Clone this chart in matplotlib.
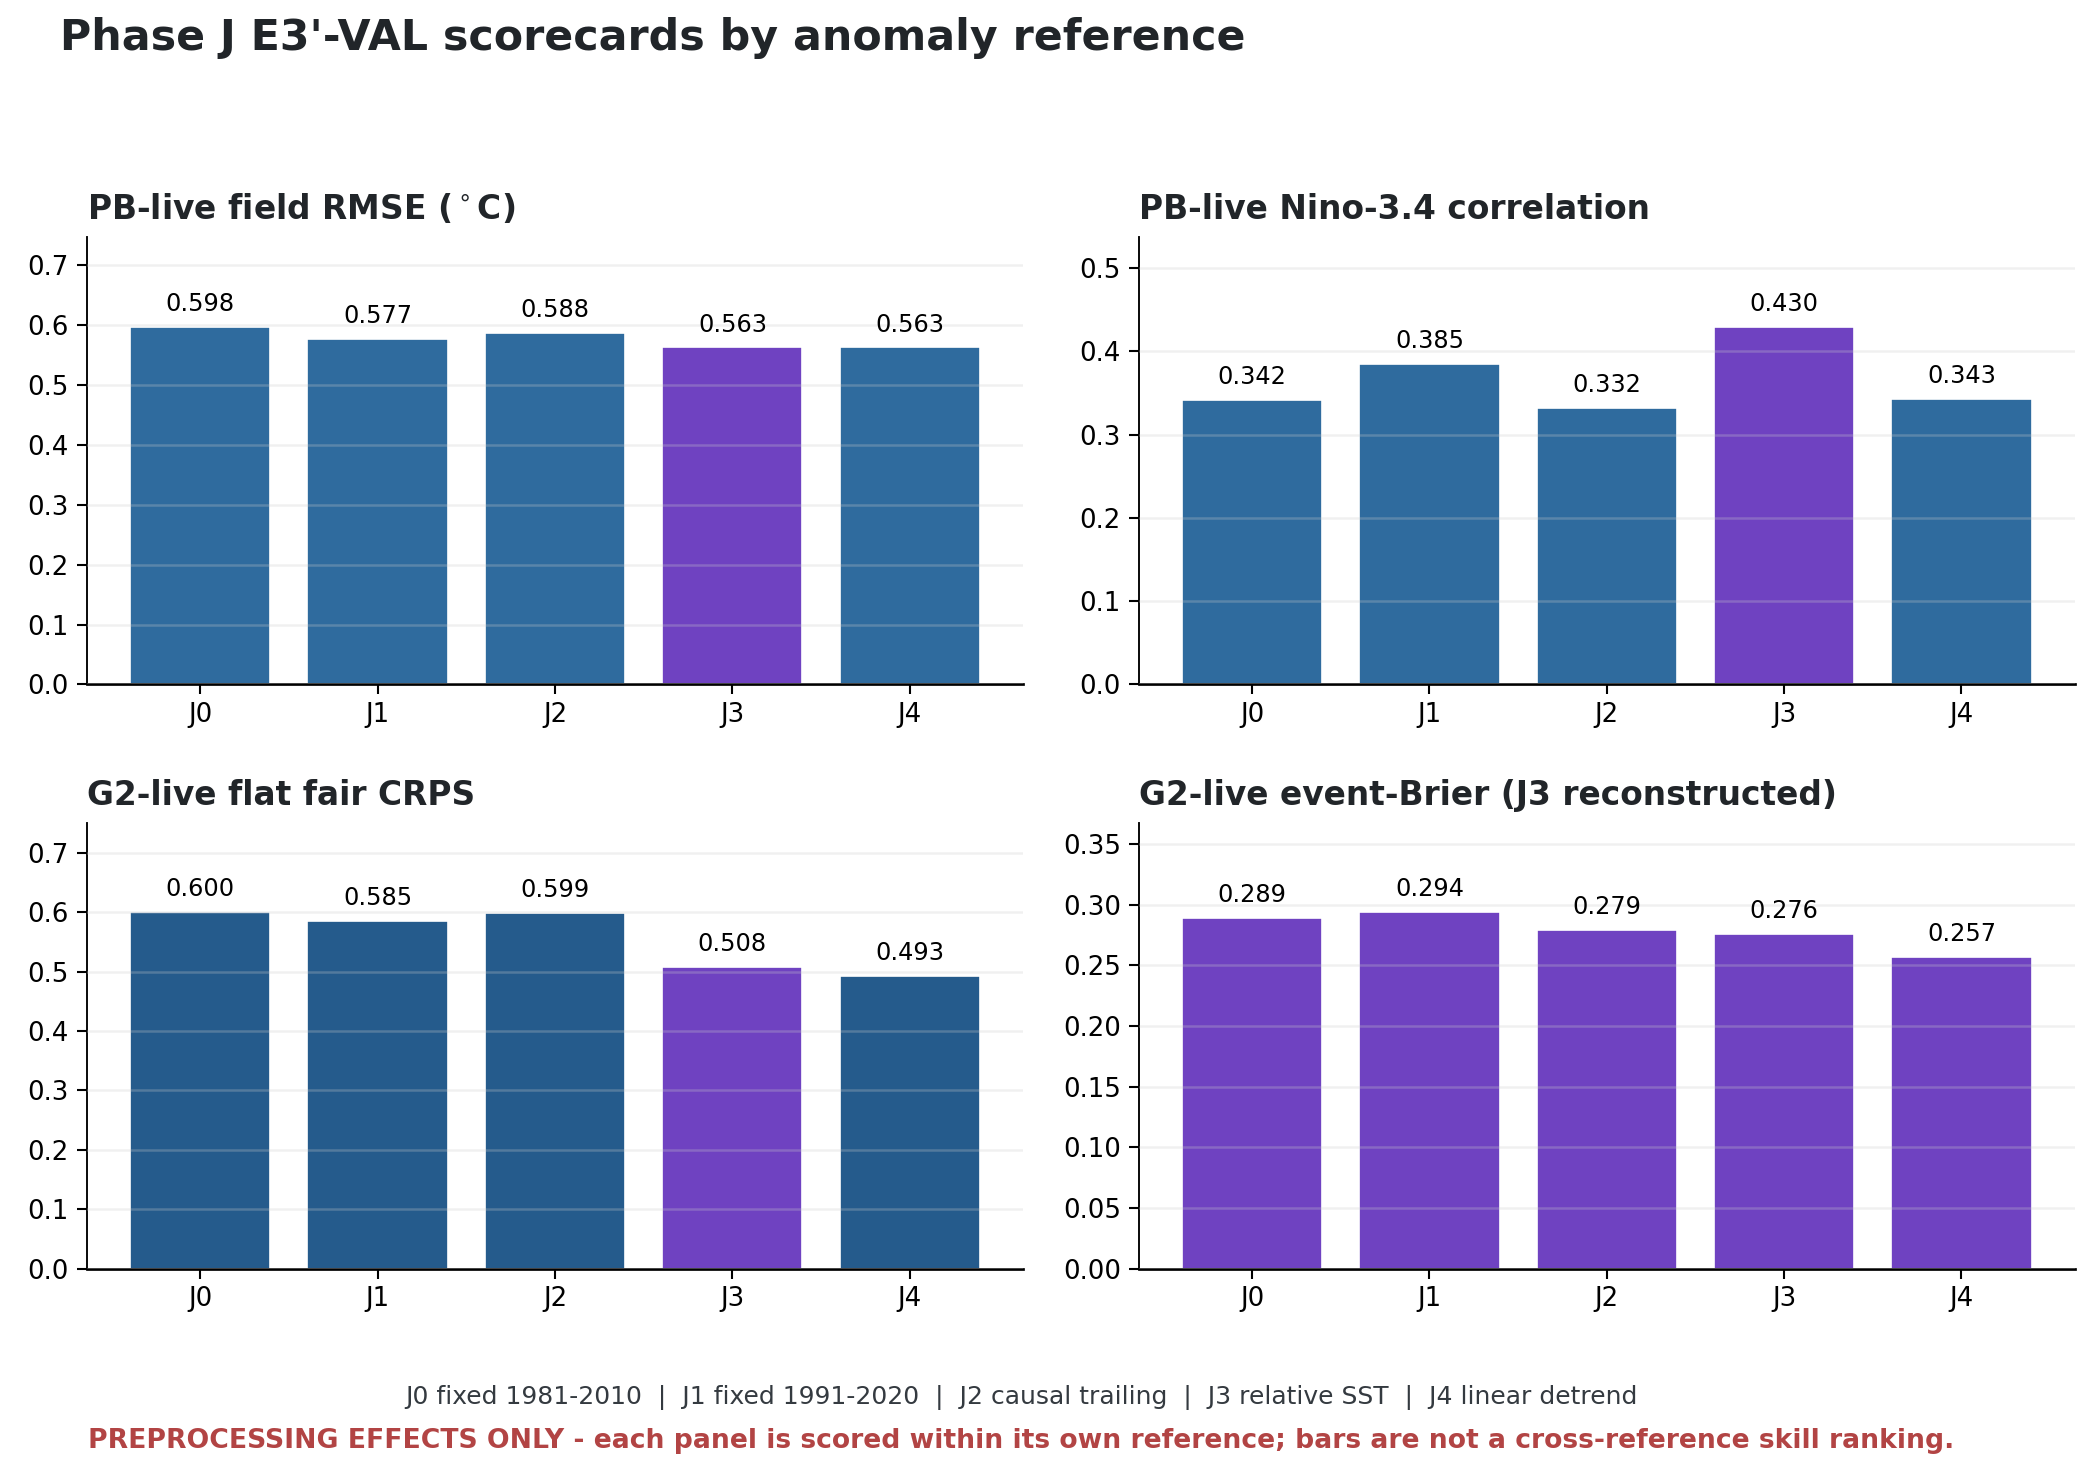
import numpy as np
import matplotlib
matplotlib.use("Agg")
import matplotlib.pyplot as plt

# data
refs = ["J0", "J1", "J2", "J3", "J4"]
rmse = [0.598, 0.577, 0.588, 0.563, 0.563]
nino_corr = [0.342, 0.385, 0.332, 0.430, 0.343]
crps = [0.600, 0.585, 0.599, 0.508, 0.493]
brier = [0.289, 0.294, 0.279, 0.276, 0.257]

titles = [r"PB-live field RMSE ($^\circ$C)",
          "PB-live Nino-3.4 correlation",
          "G2-live flat fair CRPS",
          "G2-live event-Brier (J3 reconstructed)"]

BLUE = "#2f6b9e"
DBLUE = "#255b8c"
PURPLE = "#6f42c1"
INK = "#212529"

colors = [
    [BLUE, BLUE, BLUE, PURPLE, BLUE],
    [BLUE, BLUE, BLUE, PURPLE, BLUE],
    [DBLUE, DBLUE, DBLUE, PURPLE, DBLUE],
    [PURPLE] * 5,
]

plt.rcParams["font.family"] = "DejaVu Sans"

fig = plt.figure(figsize=(13.98, 9.84), dpi=150)

positions = [
    [0.0413, 0.5363, 0.4467, 0.3031],
    [0.5430, 0.5363, 0.4465, 0.3031],
    [0.0413, 0.1405, 0.4467, 0.3019],
    [0.5430, 0.1405, 0.4465, 0.3019],
]

series = [rmse, nino_corr, crps, brier]
x = np.arange(len(refs))

for pos, vals, title, cols in zip(positions, series, titles, colors):
    ax = fig.add_axes(pos)
    bars = ax.bar(x, vals, width=0.79, color=cols, edgecolor="white", linewidth=0.8, zorder=1)
    ymax = max(vals) * 1.25
    ax.set_ylim(0, ymax)
    ax.set_xlim(-0.64, 4.64)
    ax.set_xticks(x)
    ax.set_xticklabels(refs)
    ax.grid(axis="y", color="#cccccc", alpha=0.28, linewidth=1.2, zorder=2)
    ax.set_axisbelow(False)
    for s in ["top", "right"]:
        ax.spines[s].set_visible(False)
    ax.spines["left"].set_linewidth(0.9)
    ax.spines["bottom"].set_linewidth(1.3)
    ax.tick_params(axis="both", labelsize=12.5, length=5, width=1)
    for b, v in zip(bars, vals):
        ax.annotate("%.3f" % v, (b.get_x() + b.get_width() / 2, v),
                    xytext=(0, 5.2), textcoords="offset points",
                    ha="center", va="bottom", fontsize=11.5)
    ax.set_title(title, loc="left", fontsize=15.8, fontweight="bold", color=INK, pad=8.5)

fig.text(0.0286, 0.974, "Phase J E3'-VAL scorecards by anomaly reference",
         fontsize=20.5, fontweight="bold", color=INK, ha="left", va="center")

fig.text(0.487, 0.0530,
         "J0 fixed 1981-2010  |  J1 fixed 1991-2020  |  J2 causal trailing  |  J3 relative SST  |  J4 linear detrend",
         fontsize=12, color="#343a40", ha="center", va="center")
fig.text(0.487, 0.0240,
         "PREPROCESSING EFFECTS ONLY - each panel is scored within its own reference; bars are not a cross-reference skill ranking.",
         fontsize=12.75, fontweight="bold", color="#b24444", ha="center", va="center")

fig.savefig("out.png", dpi=150)
